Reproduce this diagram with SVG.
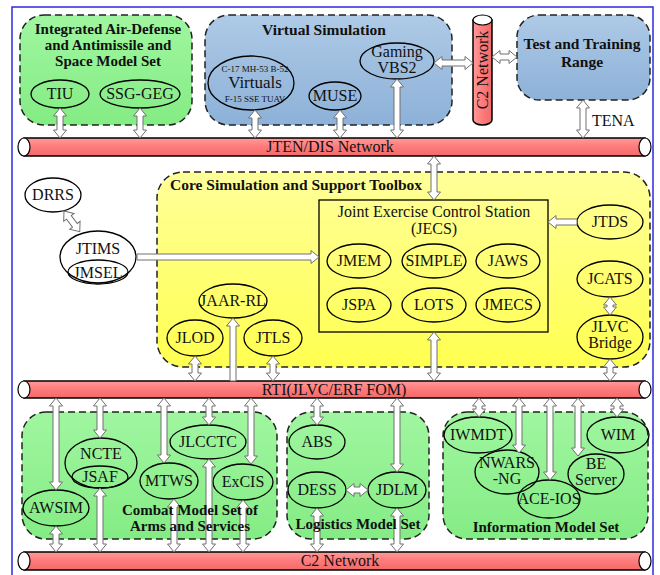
<svg xmlns="http://www.w3.org/2000/svg" width="660" height="575" viewBox="0 0 660 575">
<defs>
<linearGradient id="gG" x1="0" y1="0" x2="0" y2="1"><stop offset="0" stop-color="#a0f6a0"/><stop offset="1" stop-color="#84ec84"/></linearGradient>
<linearGradient id="gB" x1="0" y1="0" x2="0" y2="1"><stop offset="0" stop-color="#aecae6"/><stop offset="1" stop-color="#8db1d8"/></linearGradient>
<linearGradient id="gY" x1="0" y1="0" x2="0" y2="1"><stop offset="0" stop-color="#ffff9a"/><stop offset="1" stop-color="#ffff50"/></linearGradient>
<linearGradient id="gR" x1="0" y1="0" x2="0" y2="1"><stop offset="0" stop-color="#ff9a9a"/><stop offset="0.5" stop-color="#ff7a7a"/><stop offset="1" stop-color="#f06a6a"/></linearGradient>
<linearGradient id="gRv" x1="0" y1="0" x2="1" y2="0"><stop offset="0" stop-color="#ff9a9a"/><stop offset="0.5" stop-color="#ff7a7a"/><stop offset="1" stop-color="#f06a6a"/></linearGradient>
<style>
text{font-family:"Liberation Serif","Times New Roman",serif;fill:#111;}
.t{font-size:16px;text-anchor:middle;}
.b{font-size:15px;font-weight:bold;text-anchor:middle;}
.s{font-size:9px;text-anchor:middle;}
.box{stroke:#222;stroke-width:1.5;stroke-dasharray:7,4;}
.e{fill:none;stroke:#000;stroke-width:1.3;}
.ew{fill:#fff;stroke:#000;stroke-width:1.3;}
.pipe{stroke:#000;stroke-width:1.5;}
.cap{fill:#fff;stroke:#000;stroke-width:1.2;}
.a{fill:#fff;stroke:#707070;stroke-width:1;}
</style>
</defs>
<rect x="12" y="7" width="641" height="590" fill="#fff" stroke="#2a2ae0" stroke-width="1.5"/>

<g id="ad-set">
<rect class="box" x="20" y="15" width="172" height="110" rx="24" fill="url(#gG)"/>
<text class="b" x="108" y="34">Integrated Air-Defense</text>
<text class="b" x="108" y="50">and Antimissile  and</text>
<text class="b" x="108" y="66">Space Model Set</text>
</g>
<g id="TIU"><ellipse class="e" cx="60" cy="94" rx="29" ry="14"/><text class="t" x="60" y="99">TIU</text></g>
<g id="SSG-GEG"><ellipse class="e" cx="140" cy="94" rx="40" ry="14"/><text class="t" x="140" y="99">SSG-GEG</text></g>

<g id="virtual-sim">
<rect class="box" x="205" y="15" width="247" height="110" rx="24" fill="url(#gB)"/>
<text class="b" x="324" y="35" style="font-size:15.5px">Virtual Simulation</text>
</g>
<g id="Virtuals"><ellipse class="e" cx="251" cy="83" rx="43" ry="27"/>
<text class="s" x="255" y="72">C-17 MH-53 B-52</text>
<text class="t" x="255" y="88" style="font-size:17px">Virtuals</text>
<text class="s" x="255" y="102">F-15 SSE TUAV</text></g>
<g id="MUSE"><ellipse class="e" cx="335" cy="96" rx="26" ry="14"/><text class="t" x="335" y="101">MUSE</text></g>
<g id="VBS2"><ellipse class="e" cx="397" cy="61" rx="37" ry="18"/><text class="t" x="397" y="57">Gaming</text><text class="t" x="397" y="73">VBS2</text></g>

<g id="c2-vertical">
<path class="pipe" d="M473,20 V120 A9.5,5 0 0 0 492,120 V20 Z" fill="url(#gRv)"/>
<ellipse class="cap" cx="482.5" cy="20" rx="9.5" ry="5"/>
<text class="t" x="0" y="0" transform="translate(488,70) rotate(-90)">C2 Network</text>
</g>

<g id="ttr">
<rect class="box" x="517" y="15" width="133" height="85" rx="22" fill="url(#gB)"/>
<text class="b" x="582" y="49" style="font-size:15.5px">Test and Training</text>
<text class="b" x="582" y="67" style="font-size:15.5px">Range</text>
</g>

<g id="jten-pipe">
<rect class="pipe" x="24" y="138" width="621" height="18" fill="url(#gR)"/>
<ellipse class="cap" cx="24" cy="147" rx="6" ry="9"/>
<ellipse class="cap" cx="645" cy="147" rx="6" ry="9"/>
<text class="t" x="330" y="152">JTEN/DIS Network</text>
</g>

<g id="core">
<rect class="box" x="157" y="172" width="493" height="195" rx="26" fill="url(#gY)"/>
<text x="170" y="190" style="font-size:15.5px;font-weight:bold">Core Simulation and Support Toolbox</text>
</g>
<g id="JECS">
<rect x="319" y="200" width="229" height="132" fill="none" stroke="#000" stroke-width="1.3"/>
<text class="t" x="434" y="217">Joint Exercise Control Station</text>
<text class="t" x="434" y="234">(JECS)</text>
</g>
<g id="JMEM"><ellipse class="e" cx="359" cy="261" rx="32" ry="17"/><text class="t" x="359" y="266">JMEM</text></g>
<g id="SIMPLE"><ellipse class="e" cx="434" cy="261" rx="32" ry="17"/><text class="t" x="434" y="266">SIMPLE</text></g>
<g id="JAWS"><ellipse class="e" cx="508" cy="261" rx="32" ry="17"/><text class="t" x="508" y="266">JAWS</text></g>
<g id="JSPA"><ellipse class="e" cx="359" cy="305" rx="32" ry="17"/><text class="t" x="359" y="310">JSPA</text></g>
<g id="LOTS"><ellipse class="e" cx="434" cy="305" rx="32" ry="17"/><text class="t" x="434" y="310">LOTS</text></g>
<g id="JMECS"><ellipse class="e" cx="508" cy="305" rx="32" ry="17"/><text class="t" x="508" y="310">JMECS</text></g>
<g id="JTDS"><ellipse class="e" cx="610" cy="222" rx="33" ry="17"/><text class="t" x="610" y="227">JTDS</text></g>
<g id="JCATS"><ellipse class="e" cx="610" cy="279" rx="33" ry="18"/><text class="t" x="610" y="284">JCATS</text></g>
<g id="JLVC-Bridge"><ellipse class="e" cx="610" cy="337" rx="33" ry="22"/><text class="t" x="610" y="332">JLVC</text><text class="t" x="610" y="348">Bridge</text></g>
<g id="JAAR-RL"><ellipse class="e" cx="233" cy="301" rx="34" ry="17"/><text class="t" x="233" y="306">JAAR-RL</text></g>
<g id="JLOD"><ellipse class="e" cx="195" cy="338" rx="28" ry="18"/><text class="t" x="195" y="343">JLOD</text></g>
<g id="JTLS"><ellipse class="e" cx="273" cy="338" rx="29" ry="18"/><text class="t" x="273" y="343">JTLS</text></g>
<g id="DRRS"><ellipse class="ew" cx="53" cy="195" rx="28" ry="17"/><text class="t" x="53" y="200">DRRS</text></g>
<g id="JTIMS"><ellipse class="ew" cx="98" cy="257" rx="38" ry="26"/><text class="t" x="98" y="254">JTIMS</text>
<ellipse class="e" cx="98" cy="272" rx="30" ry="12"/><text class="t" x="98" y="278">JMSEL</text></g>

<g id="rti-pipe">
<rect class="pipe" x="24" y="381" width="621" height="17" fill="url(#gR)"/>
<ellipse class="cap" cx="24" cy="389.5" rx="6" ry="8.5"/>
<ellipse class="cap" cx="645" cy="389.5" rx="6" ry="8.5"/>
<text class="t" x="334" y="395">RTI(JLVC/ERF FOM)</text>
</g>

<g id="combat-set">
<rect class="box" x="22" y="412" width="255" height="127" rx="24" fill="url(#gG)"/>
</g>
<g id="AWSIM"><ellipse class="e" cx="56" cy="508" rx="33" ry="18"/><text class="t" x="56" y="513">AWSIM</text></g>
<g id="NCTE"><ellipse class="e" cx="101" cy="463" rx="36" ry="25"/><text class="t" x="101" y="459">NCTE</text>
<ellipse class="e" cx="100" cy="477" rx="28" ry="11"/><text class="t" x="100" y="482">JSAF</text></g>
<g id="MTWS"><ellipse class="e" cx="169" cy="481" rx="29" ry="18"/><text class="t" x="169" y="486">MTWS</text></g>
<g id="JLCCTC"><ellipse class="e" cx="208" cy="442" rx="38" ry="17"/><text class="t" x="208" y="447">JLCCTC</text></g>
<g id="ExCIS"><ellipse class="e" cx="243" cy="482" rx="30" ry="18"/><text class="t" x="243" y="487">ExCIS</text></g>

<g id="logistics-set">
<rect class="box" x="287" y="412" width="142" height="127" rx="24" fill="url(#gG)"/>
</g>
<g id="ABS"><ellipse class="e" cx="317" cy="442" rx="28" ry="17"/><text class="t" x="317" y="447">ABS</text></g>
<g id="DESS"><ellipse class="e" cx="317" cy="490" rx="29" ry="18"/><text class="t" x="317" y="495">DESS</text></g>
<g id="JDLM"><ellipse class="e" cx="397" cy="490" rx="29" ry="18"/><text class="t" x="397" y="495">JDLM</text></g>

<g id="info-set">
<rect class="box" x="443" y="412" width="205" height="127" rx="24" fill="url(#gG)"/>
</g>
<g id="IWMDT"><ellipse class="e" cx="478" cy="435" rx="34" ry="18"/><text class="t" x="478" y="440">IWMDT</text></g>
<g id="NWARS-NG"><ellipse class="e" cx="507" cy="472" rx="32" ry="22"/><text class="t" x="507" y="468">NWARS</text><text class="t" x="507" y="484">-NG</text></g>
<g id="ACE-IOS"><ellipse class="e" cx="549" cy="499" rx="31" ry="19"/><text class="t" x="549" y="504">ACE-IOS</text></g>
<g id="BE-Server"><ellipse class="e" cx="596" cy="474" rx="28" ry="20"/><text class="t" x="596" y="469">BE</text><text class="t" x="596" y="485">Server</text></g>
<g id="WIM"><ellipse class="e" cx="618" cy="435" rx="31" ry="18"/><text class="t" x="618" y="440">WIM</text></g>

<g id="c2-pipe">
<rect class="pipe" x="24" y="552" width="621" height="18" fill="url(#gR)"/>
<ellipse class="cap" cx="24" cy="561" rx="6" ry="9"/>
<ellipse class="cap" cx="645" cy="561" rx="6" ry="9"/>
<text class="t" x="340" y="566">C2 Network</text>
</g>

<g id="connectors">
<polygon class="a" points="60,108 66.5,116 63,116 63,130 66.5,130 60,138 53.5,130 57,130 57,116 53.5,116"/>
<polygon class="a" points="140,108 146.5,116 143,116 143,130 146.5,130 140,138 133.5,130 137,130 137,116 133.5,116"/>
<polygon class="a" points="255,110 261.5,118 258,118 258,130 261.5,130 255,138 248.5,130 252,130 252,118 248.5,118"/>
<polygon class="a" points="340,110 346.5,118 343,118 343,130 346.5,130 340,138 333.5,130 337,130 337,118 333.5,118"/>
<polygon class="a" points="397,79 403.5,87 400,87 400,130 403.5,130 397,138 390.5,130 394,130 394,87 390.5,87"/>
<polygon class="a" points="434,63 442,56.5 442,60 465,60 465,56.5 473,63 465,69.5 465,66 442,66 442,69.5"/>
<polygon class="a" points="492,57 500,50.5 500,54 509,54 509,50.5 517,57 509,63.5 509,60 500,60 500,63.5"/>
<polygon class="a" points="583,100 589.5,108 586,108 586,130 589.5,130 583,138 576.5,130 580,130 580,108 576.5,108"/>
<text x="592" y="126" style="font-size:16px">TENA</text>
<polygon class="a" points="434,156 440.5,164 437,164 437,192 440.5,192 434,200 427.5,192 431,192 431,164 427.5,164"/>
<polygon class="a" transform="translate(64,211) rotate(-37.3)" points="0,0 6.5,8 3,8 3,18 6.5,18 0,26 -6.5,18 -3,18 -3,8 -6.5,8"/>
<polygon class="a" points="137,254 311,254 311,250.5 319,257 311,263.5 311,260 137,260"/>
<polygon class="a" points="548,222 556,215.5 556,219 577,219 577,225 556,225 556,228.5"/>
<polygon class="a" points="610,297 616.5,305 613,305 613,307 616.5,307 610,315 603.5,307 607,307 607,305 603.5,305"/>
<polygon class="a" points="610,359 616.5,367 613,367 613,373 616.5,373 610,381 603.5,373 607,373 607,367 603.5,367"/>
<polygon class="a" points="434,332 440.5,340 437,340 437,373 440.5,373 434,381 427.5,373 431,373 431,340 427.5,340"/>
<polygon class="a" points="195,356 201.5,364 198,364 198,373 201.5,373 195,381 188.5,373 192,373 192,364 188.5,364"/>
<polygon class="a" points="273,356 279.5,364 276,364 276,373 279.5,373 273,381 266.5,373 270,373 270,364 266.5,364"/>
<polygon class="a" points="233,318 239.5,326 236,326 236,381 230,381 230,326 226.5,326"/>
<polygon class="a" points="56,398 62.5,406 59,406 59,482 62.5,482 56,490 49.5,482 53,482 53,406 49.5,406"/>
<polygon class="a" points="100,398 106.5,406 103,406 103,430 106.5,430 100,438 93.5,430 97,430 97,406 93.5,406"/>
<polygon class="a" points="164,398 170.5,406 167,406 167,455 170.5,455 164,463 157.5,455 161,455 161,406 157.5,406"/>
<polygon class="a" points="209,398 215.5,406 212,406 212,417 215.5,417 209,425 202.5,417 206,417 206,406 202.5,406"/>
<polygon class="a" points="251,398 257.5,406 254,406 254,456 257.5,456 251,464 244.5,456 248,456 248,406 244.5,406"/>
<polygon class="a" points="56,526 62.5,534 59,534 59,544 62.5,544 56,552 49.5,544 53,544 53,534 49.5,534"/>
<polygon class="a" points="100,488 106.5,496 103,496 103,544 106.5,544 100,552 93.5,544 97,544 97,496 93.5,496"/>
<polygon class="a" points="174,499 180.5,507 177,507 177,544 180.5,544 174,552 167.5,544 171,544 171,507 167.5,507"/>
<polygon class="a" points="209,459 215.5,467 212,467 212,544 215.5,544 209,552 202.5,544 206,544 206,467 202.5,467"/>
<polygon class="a" points="243,500 249.5,508 246,508 246,544 249.5,544 243,552 236.5,544 240,544 240,508 236.5,508"/>
<polygon class="a" points="317,398 323.5,406 320,406 320,417 323.5,417 317,425 310.5,417 314,417 314,406 310.5,406"/>
<polygon class="a" points="397,398 403.5,406 400,406 400,464 403.5,464 397,472 390.5,464 394,464 394,406 390.5,406"/>
<polygon class="a" points="346,490 354,483.5 354,487 360,487 360,483.5 368,490 360,496.5 360,493 354,493 354,496.5"/>
<polygon class="a" points="317,508 323.5,516 320,516 320,544 323.5,544 317,552 310.5,544 314,544 314,516 310.5,516"/>
<polygon class="a" points="397,508 403.5,516 400,516 400,544 403.5,544 397,552 390.5,544 394,544 394,516 390.5,516"/>
<polygon class="a" points="479,398 485.5,406 482,406 482,409 485.5,409 479,417 472.5,409 476,409 476,406 472.5,406"/>
<polygon class="a" points="519,398 525.5,406 522,406 522,445 525.5,445 519,453 512.5,445 516,445 516,406 512.5,406"/>
<polygon class="a" points="550,398 556.5,406 553,406 553,472 556.5,472 550,480 543.5,472 547,472 547,406 543.5,406"/>
<polygon class="a" points="578,398 584.5,406 581,406 581,448 584.5,448 578,456 571.5,448 575,448 575,406 571.5,406"/>
<polygon class="a" points="617,398 623.5,406 620,406 620,409 623.5,409 617,417 610.5,409 614,409 614,406 610.5,406"/>
</g>

<g id="set-titles">
<text class="b" x="190" y="515">Combat Model Set of</text>
<text class="b" x="190" y="531">Arms and Services</text>
<text class="b" x="358" y="529">Logistics Model Set</text>
<text class="b" x="546" y="532">Information Model Set</text>
</g>
</svg>
